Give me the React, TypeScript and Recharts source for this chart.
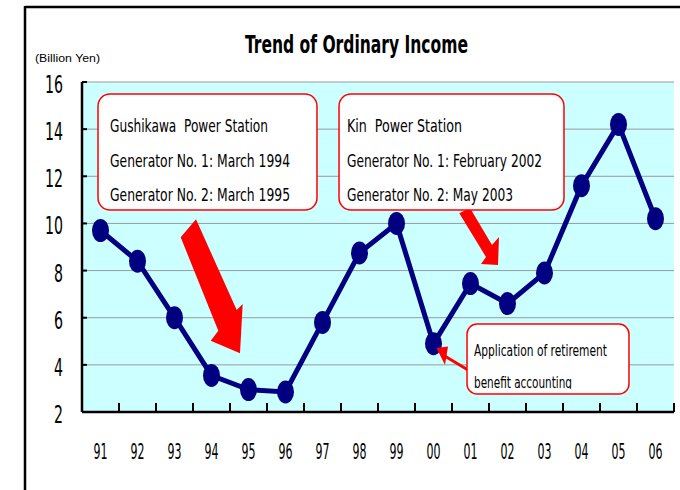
import React from 'react';
import { LineChart, Line, XAxis, YAxis, CartesianGrid } from 'recharts';

const years = ['91', '92', '93', '94', '95', '96', '97', '98', '99', '00', '01', '02', '03', '04', '05', '06'];
const income = [9.7, 8.4, 6.0, 3.55, 2.95, 2.85, 5.8, 8.75, 10.0, 4.9, 7.45, 6.6, 7.9, 11.6, 14.2, 10.2];
const yTicks = [2, 4, 6, 8, 10, 12, 14, 16];

const title = 'Trend of Ordinary Income';
const unitLabel = '(Billion Yen)';
const gushikawaLines = ['Gushikawa  Power Station', 'Generator No. 1: March 1994', 'Generator No. 2: March 1995'];
const kinLines = ['Kin  Power Station', 'Generator No. 1: February 2002', 'Generator No. 2: May 2003'];
const noteLines = ['Application of retirement', 'benefit accounting'];

const data = years.map((y, i) => ({ year: y, income: income[i] }));

const FONT = "'Liberation Sans Narrow', 'DejaVu Sans Condensed', 'Roboto Condensed', 'Liberation Sans', sans-serif";
const NAVY = '#000080';
const RED = '#ff0000';
const PRE: React.CSSProperties = { whiteSpace: 'pre' };

const XTick = (props: any) => {
  const { x, y, payload, index } = props;
  const half = payload && typeof payload.offset === 'number' && payload.offset > 0 ? payload.offset : 18.5;
  return (
    <g>
      <line x1={x - half} x2={x - half} y1={y} y2={y - 9} stroke="#000" strokeWidth={2} />
      {index === years.length - 1 && (
        <line x1={x + half} x2={x + half} y1={y} y2={y - 9} stroke="#000" strokeWidth={2} />
      )}
      <text x={x} y={y + 47} textAnchor="middle" fontFamily={FONT} fontSize={21} fill="#000"
        textLength={14} lengthAdjust="spacingAndGlyphs">
        {payload.value}
      </text>
    </g>
  );
};

const YTick = (props: any) => {
  const { x, y, payload } = props;
  const s = String(payload.value);
  const w = s.length * 9;
  return (
    <g>
      <line x1={x} x2={x + 5} y1={y} y2={y} stroke="#000" strokeWidth={2} />
      <text x={x - 19} y={y + 11} textAnchor="end" fontFamily={FONT} fontSize={25} fill="#000"
        textLength={w} lengthAdjust="spacingAndGlyphs">
        {s}
      </text>
    </g>
  );
};

const Dot = (props: any) => {
  const { cx, cy, index } = props;
  if (cx == null || cy == null) return null;
  return <ellipse key={`d${index}`} cx={cx} cy={cy} rx={8.5} ry={11.5} fill={NAVY} />;
};

const Annotations = () => (
  <svg width={680} height={490} style={{ position: 'absolute', left: 0, top: 0, pointerEvents: 'none' }}>
    <defs>
      <clipPath id="noteClip">
        <rect x={467} y={324} width={162} height={65} />
      </clipPath>
    </defs>
    {/* frame */}
    <line x1={25} y1={7} x2={680} y2={7} stroke="#000" strokeWidth={2.5} />
    <line x1={25} y1={6} x2={25} y2={490} stroke="#000" strokeWidth={2.5} />
    {/* title */}
    <text x={245} y={53} fontFamily={FONT} fontSize={25} fontWeight="bold" fill="#000"
      textLength={223} lengthAdjust="spacingAndGlyphs">{title}</text>
    <text x={35} y={62} fontFamily="'Liberation Sans', sans-serif" fontSize={10.5} fill="#000"
      textLength={65} lengthAdjust="spacingAndGlyphs">{unitLabel}</text>
    {/* big arrow 1 */}
    <polygon points="180.7,237.3 196,219.3 236.7,310 242.7,304 240,353.3 210.7,340.7 218.3,330.7" fill={RED} />
    {/* arrow 2 */}
    <polygon points="459.3,213.3 470,208 492,245 499,237 498,265 481,264 486,257" fill={RED} />
    {/* small arrow 3 */}
    <line x1={468} y1={370} x2={443} y2={355} stroke={RED} strokeWidth={3} />
    <polygon points="436.5,348 448,346.5 445,365" fill={RED} />
    {/* box 1 */}
    <rect x={98} y={94} width={219} height={116} rx={12} ry={12} fill="#fff" stroke={RED} strokeWidth={1.5} />
    <text x={110} y={132} style={PRE} fontFamily={FONT} fontSize={18} fill="#000" textLength={158} lengthAdjust="spacingAndGlyphs">{gushikawaLines[0]}</text>
    <text x={110} y={167} style={PRE} fontFamily={FONT} fontSize={18} fill="#000" textLength={180} lengthAdjust="spacingAndGlyphs">{gushikawaLines[1]}</text>
    <text x={110} y={201} style={PRE} fontFamily={FONT} fontSize={18} fill="#000" textLength={180} lengthAdjust="spacingAndGlyphs">{gushikawaLines[2]}</text>
    {/* box 2 */}
    <rect x={339} y={94} width={225} height={116} rx={12} ry={12} fill="#fff" stroke={RED} strokeWidth={1.5} />
    <text x={347} y={132} style={PRE} fontFamily={FONT} fontSize={18} fill="#000" textLength={115} lengthAdjust="spacingAndGlyphs">{kinLines[0]}</text>
    <text x={347} y={167} style={PRE} fontFamily={FONT} fontSize={18} fill="#000" textLength={195} lengthAdjust="spacingAndGlyphs">{kinLines[1]}</text>
    <text x={347} y={201} style={PRE} fontFamily={FONT} fontSize={18} fill="#000" textLength={166} lengthAdjust="spacingAndGlyphs">{kinLines[2]}</text>
    {/* box 3 */}
    <rect x={467} y={324} width={162} height={70} rx={10} ry={10} fill="#fff" stroke={RED} strokeWidth={1.5} />
    <g clipPath="url(#noteClip)">
      <text x={474} y={356} style={PRE} fontFamily={FONT} fontSize={16} fill="#000" textLength={133} lengthAdjust="spacingAndGlyphs">{noteLines[0]}</text>
      <text x={474} y={388} style={PRE} fontFamily={FONT} fontSize={16} fill="#000" textLength={98} lengthAdjust="spacingAndGlyphs">{noteLines[1]}</text>
    </g>
  </svg>
);

export default function App() {
  return (
    <div style={{ position: 'absolute', left: 0, top: 0, width: 680, height: 490, background: '#fff', overflow: 'hidden' }}>
      <LineChart width={680} height={490} data={data} margin={{ top: 82, right: 6, bottom: 0, left: 0 }}>
        <CartesianGrid vertical={false} stroke="#9a9a9a" fill="#ccffff" fillOpacity={1} />
        <XAxis dataKey="year" scale="band" height={78} tickSize={0} tickMargin={0} tickLine={false}
          axisLine={{ stroke: '#000', strokeWidth: 2.5 }} tick={<XTick />} interval={0} />
        <YAxis domain={[2, 16]} ticks={yTicks} width={82} tickSize={0} tickMargin={0} tickLine={false}
          axisLine={{ stroke: '#000', strokeWidth: 2.5 }} tick={<YTick />} interval={0} allowDataOverflow />
        <Line type="linear" dataKey="income" stroke={NAVY} strokeWidth={5} dot={<Dot />} activeDot={false}
          isAnimationActive={false} />
      </LineChart>
      <Annotations />
    </div>
  );
}
